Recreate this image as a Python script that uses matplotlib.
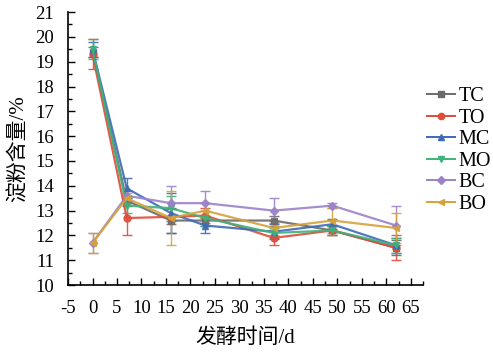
import matplotlib
matplotlib.use("Agg")
import matplotlib.pyplot as plt
from matplotlib.lines import Line2D
from matplotlib.ticker import MultipleLocator

plt.rcParams['font.family'] = ['Liberation Serif', 'Noto Sans CJK SC']
plt.rcParams['axes.unicode_minus'] = False

days = [0, 7, 16, 23, 37, 49, 62]

series = ["TC", "TO", "MC", "MO", "BC", "BO"]
tc = [19.4, 13.4, 12.6, 12.6, 12.6, 12.2, 11.5]
to = [19.3, 12.7, 12.75, 12.8, 11.9, 12.2, 11.5]
mc = [19.5, 13.9, 12.9, 12.4, 12.15, 12.45, 11.6]
mo = [19.5, 13.2, 13.1, 12.7, 12.1, 12.2, 11.6]
bc = [11.7, 13.6, 13.3, 13.3, 13.0, 13.2, 12.4]
bo = [11.7, 13.5, 12.7, 13.0, 12.3, 12.6, 12.3]

tc_err = [0.2, 0.2, 0.5, 0.2, 0.2, 0.2, 0.3]
to_err = [0.6, 0.7, 0.3, 0.3, 0.3, 0.2, 0.5]
mc_err = [0.3, 0.4, 0.8, 0.3, 0.3, 0.2, 0.3]
mo_err = [0.4, 0.3, 0.5, 0.3, 0.2, 0.2, 0.3]
bc_err = [0.4, 0.2, 0.7, 0.5, 0.5, 0.1, 0.8]
bo_err = [0.4, 0.2, 1.1, 0.3, 0.3, 0.5, 0.6]

values = [tc, to, mc, mo, bc, bo]
errors = [tc_err, to_err, mc_err, mo_err, bc_err, bo_err]
colors = ["#6b6b6b", "#e04b3c", "#3d6ab8", "#3cb37a", "#9b82c9", "#d6a23a"]
markers = ["s", "o", "^", "v", "D", "<"]

fig = plt.figure(figsize=(4.93, 3.55), dpi=100)
ax = fig.add_axes([0.138, 0.197, 0.72, 0.769])

handles = []
for name, y, err, c, m in zip(series, values, errors, colors, markers):
    ms = 4.5 if m == "D" else 5
    ax.errorbar(days, y, yerr=err, color=c, marker=m, markersize=ms,
                linewidth=1.6, elinewidth=1.0, capsize=3.5, capthick=1.0,
                ecolor=c, alpha=0.9)
    handles.append(Line2D([], [], color=c, marker=m, markersize=ms - 0.5,
                          linewidth=1.4, label=name))

ax.set_xlim(-5, 67.5)
ax.set_ylim(10, 21)
ax.xaxis.set_major_locator(MultipleLocator(5))
ax.xaxis.set_minor_locator(MultipleLocator(2.5))
ax.yaxis.set_major_locator(MultipleLocator(1))
ax.yaxis.set_minor_locator(MultipleLocator(0.5))
ax.tick_params(which="both", direction="in", labelsize=13.5, width=1)
ax.tick_params(axis="x", which="major", pad=11)
ax.tick_params(axis="y", which="major", pad=10)
ax.tick_params(which="major", length=5)
ax.tick_params(which="minor", length=3)
for s in ["top", "right"]:
    ax.spines[s].set_visible(False)
for s in ["left", "bottom"]:
    ax.spines[s].set_linewidth(1.2)

ax.set_xlabel("发酵时间/d", fontsize=15, labelpad=8)
ax.set_ylabel("淀粉含量/%", fontsize=15, labelpad=5)

ax.legend(handles=handles, loc="upper left", bbox_to_anchor=(1.01, 0.725), frameon=False,
          fontsize=14.5, handlelength=1.4, handletextpad=0.2, labelspacing=0.12,
          borderaxespad=0, borderpad=0)

fig.savefig("out.png", dpi=100)
